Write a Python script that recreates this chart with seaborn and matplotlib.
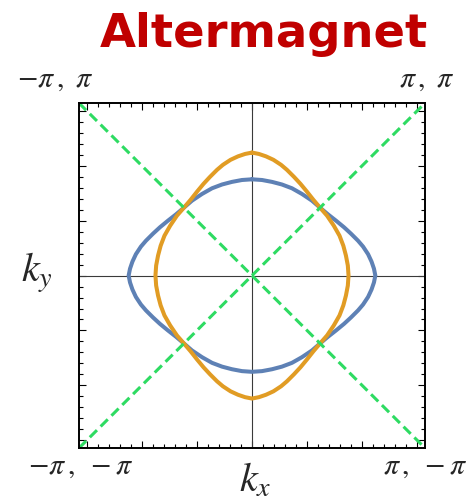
import numpy as np
import pandas as pd
import matplotlib
matplotlib.use("Agg")
import matplotlib.pyplot as plt
from matplotlib.ticker import MultipleLocator, NullFormatter
import seaborn as sns

# Fermi contours in the first quadrant, in units of pi,
# ordered from the ky axis (kx = 0) round to the kx axis (ky = 0).
blue_kx = [0.000, 0.058, 0.116, 0.173, 0.231, 0.289, 0.347, 0.393, 0.439,
           0.486, 0.532, 0.572, 0.613, 0.642, 0.671, 0.691, 0.705, 0.713]
blue_ky = [0.558, 0.554, 0.543, 0.528, 0.506, 0.473, 0.434, 0.394, 0.355,
           0.318, 0.280, 0.243, 0.202, 0.168, 0.124, 0.081, 0.040, 0.000]
orange_kx = [0.000, 0.040, 0.081, 0.124, 0.168, 0.202, 0.243, 0.280, 0.318,
             0.355, 0.394, 0.434, 0.473, 0.506, 0.528, 0.543, 0.554, 0.558]
orange_ky = [0.713, 0.705, 0.691, 0.671, 0.642, 0.613, 0.572, 0.532, 0.486,
             0.439, 0.393, 0.347, 0.289, 0.231, 0.173, 0.116, 0.058, 0.000]

# Nodal diagonals of the Brillouin zone, in units of pi
diag_x = [-1.0, 1.0]
diag_up_y = [-1.0, 1.0]
diag_down_y = [1.0, -1.0]

corner_labels = {
    "top_left": r"$-\pi\,,\ \pi$",
    "top_right": r"$\pi\,,\ \pi$",
    "bottom_left": r"$-\pi\,,\ -\pi$",
    "bottom_right": r"$\pi\,,\ -\pi$",
}
title = "Altermagnet"

BLUE = "#5E81B5"
ORANGE = "#E19C24"
GREEN = "#2EDB62"


def closed_loop(qx, qy):
    """Mirror a first-quadrant arc into a closed contour (in radians)."""
    qx = np.asarray(qx)
    qy = np.asarray(qy)
    x = np.concatenate([qx, qx[::-1][1:], -qx[1:], -qx[::-1][1:]])
    y = np.concatenate([qy, -qy[::-1][1:], -qy[1:], qy[::-1][1:]])
    return pd.DataFrame({"kx": x * np.pi, "ky": y * np.pi})


sns.set_style("white")
plt.rcParams["mathtext.fontset"] = "stix"

fig = plt.figure(figsize=(4.73, 5.04), dpi=100)
ax = fig.add_axes([0.167, 0.111, 0.7315, 0.6845])

# coordinate axes through the zone centre
ax.axhline(0, color="#3a3a3a", lw=0.8, zorder=1)
ax.axvline(0, color="#3a3a3a", lw=0.8, zorder=1)

for qx, qy, col in [(blue_kx, blue_ky, BLUE), (orange_kx, orange_ky, ORANGE)]:
    sns.lineplot(data=closed_loop(qx, qy), x="kx", y="ky", sort=False,
                 estimator=None, color=col, lw=2.9, ax=ax, zorder=3,
                 solid_joinstyle="round")

for dy in (diag_up_y, diag_down_y):
    sns.lineplot(x=np.array(diag_x) * np.pi, y=np.array(dy) * np.pi,
                 sort=False, estimator=None, color=GREEN, lw=2.2, ax=ax,
                 zorder=4)
    ax.get_lines()[-1].set_dashes((3.3, 1.7))

ax.set_xlim(-np.pi, np.pi)
ax.set_ylim(-np.pi, np.pi)
ax.set_xlabel("")
ax.set_ylabel("")

for side in ax.spines.values():
    side.set_visible(True)
    side.set_color("black")
    side.set_linewidth(1.4)
    side.set_zorder(5)

ax.xaxis.set_major_locator(MultipleLocator(1))
ax.xaxis.set_minor_locator(MultipleLocator(0.2))
ax.yaxis.set_major_locator(MultipleLocator(1))
ax.yaxis.set_minor_locator(MultipleLocator(0.2))
ax.xaxis.set_major_formatter(NullFormatter())
ax.yaxis.set_major_formatter(NullFormatter())
ax.tick_params(which="both", direction="in", top=True, right=True,
               bottom=True, left=True, color="black", width=0.8)
ax.tick_params(which="major", length=5.0)
ax.tick_params(which="minor", length=3.2)

# axis names
fig.text(0.539, 0.024, r"$k_x$", fontsize=29, ha="center", va="baseline")
fig.text(0.044, 0.441, r"$k_y$", fontsize=29, ha="left", va="baseline")

# zone-corner coordinates
fig.text(0.036, 0.828, corner_labels["top_left"], fontsize=21.5,
         ha="left", va="baseline")
fig.text(0.962, 0.828, corner_labels["top_right"], fontsize=21.5,
         ha="right", va="baseline")
fig.text(0.059, 0.060, corner_labels["bottom_left"], fontsize=21.5,
         ha="left", va="baseline")
fig.text(0.989, 0.060, corner_labels["bottom_right"], fontsize=21.5,
         ha="right", va="baseline")

fig.text(0.558, 0.907, title, fontsize=33.5, fontweight="bold",
         family="DejaVu Sans", color="#C00000", ha="center", va="baseline")

fig.savefig("out.png", dpi=100)
